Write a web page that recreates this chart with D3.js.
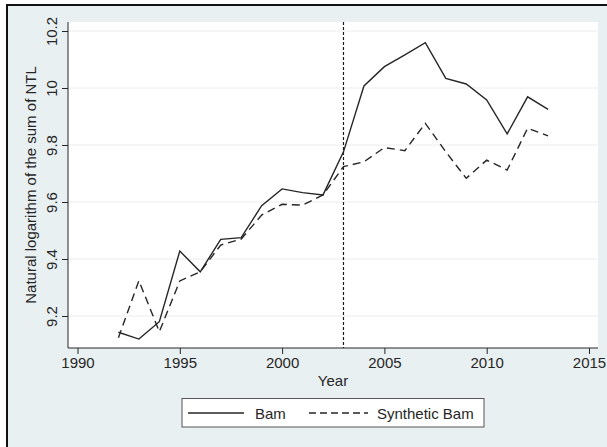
<!DOCTYPE html>
<html>
<head>
<meta charset="utf-8">
<script src="https://cdn.jsdelivr.net/npm/d3@7"></script>
<style>
  html, body { margin: 0; padding: 0; background: #ffffff; }
  svg { display: block; font-family: "Liberation Sans", Arial, Helvetica, sans-serif; }
</style>
</head>
<body>
<svg id="chart" width="607" height="447"></svg>
<script>
// Yearly series: observed Bam vs. its synthetic control
const years = [1992, 1993, 1994, 1995, 1996, 1997, 1998, 1999, 2000, 2001, 2002,
               2003, 2004, 2005, 2006, 2007, 2008, 2009, 2010, 2011, 2012, 2013];
const bam = [9.143, 9.119, 9.180, 9.428, 9.355, 9.469, 9.475, 9.587, 9.646, 9.633, 9.625,
             9.776, 10.007, 10.075, 10.116, 10.159, 10.034, 10.014, 9.958, 9.839, 9.969, 9.925];
const syntheticBam = [9.124, 9.324, 9.145, 9.323, 9.355, 9.449, 9.470, 9.554, 9.592, 9.589, 9.625,
                      9.724, 9.741, 9.791, 9.780, 9.876, 9.776, 9.683, 9.747, 9.712, 9.859, 9.832];
const seriesNames = ["Bam", "Synthetic Bam"];
const eventYear = 2003;

const xTicks = [1990, 1995, 2000, 2005, 2010, 2015];
const yTicks = [9.2, 9.4, 9.6, 9.8, 10, 10.2];
const yTickLabels = ["9.2", "9.4", "9.6", "9.8", "10", "10.2"];
const xTitle = "Year";
const yTitle = "Natural logarithm of the sum of NTL";

const svg = d3.select("#chart");
const ink = "#262626";

// Graph region (light bluish gray) framed on top and left
svg.append("rect").attr("x", 7).attr("y", 5).attr("width", 600).attr("height", 442)
  .attr("fill", "#e9f0f2");
svg.append("line").attr("x1", 6).attr("x2", 607).attr("y1", 5).attr("y2", 5)
  .attr("stroke", "#111").attr("stroke-width", 2);
svg.append("line").attr("x1", 7).attr("x2", 7).attr("y1", 4).attr("y2", 447)
  .attr("stroke", "#111").attr("stroke-width", 2);

// Plot region
const plot = { left: 68, right: 598, top: 22, bottom: 348 };
svg.append("rect").attr("x", plot.left).attr("y", plot.top)
  .attr("width", plot.right - plot.left).attr("height", plot.bottom - plot.top)
  .attr("fill", "#ffffff");

const x = d3.scaleLinear().domain([1990, 2015]).range([77.5, 589]);
const y = d3.scaleLinear().domain([9.2, 10.2]).range([316, 31]);

// Horizontal grid lines
svg.append("g").selectAll("line").data(yTicks).join("line")
  .attr("x1", plot.left).attr("x2", plot.right)
  .attr("y1", d => y(d)).attr("y2", d => y(d))
  .attr("stroke", "#ececec").attr("stroke-width", 1);

// X axis
const xAxis = svg.append("g")
  .attr("transform", `translate(0,${plot.bottom})`)
  .call(d3.axisBottom(x).tickValues(xTicks).tickFormat(d3.format("d")).tickSize(6).tickSizeOuter(0));
xAxis.select(".domain").remove();
xAxis.selectAll(".tick line").attr("stroke", ink);
xAxis.selectAll(".tick text").attr("fill", ink).attr("font-size", 15).attr("y", 9);

// Y axis with rotated labels
const yAxis = svg.append("g")
  .attr("transform", `translate(${plot.left},0)`)
  .call(d3.axisLeft(y).tickValues(yTicks).tickFormat((d, i) => yTickLabels[i]).tickSize(6).tickSizeOuter(0));
yAxis.select(".domain").remove();
yAxis.selectAll(".tick line").attr("stroke", ink);
yAxis.selectAll(".tick text")
  .attr("fill", ink).attr("font-size", 15)
  .attr("x", null).attr("dy", null)
  .attr("text-anchor", "middle")
  .attr("transform", "translate(-11,0) rotate(-90)");

// Axis lines
svg.append("line").attr("x1", plot.left).attr("x2", plot.right)
  .attr("y1", plot.bottom).attr("y2", plot.bottom).attr("stroke", ink).attr("stroke-width", 1);
svg.append("line").attr("x1", plot.left).attr("x2", plot.left)
  .attr("y1", plot.top).attr("y2", plot.bottom).attr("stroke", ink).attr("stroke-width", 1);

// Axis titles
svg.append("text").attr("x", (plot.left + plot.right) / 2).attr("y", 386)
  .attr("text-anchor", "middle").attr("font-size", 15).attr("fill", ink).text(xTitle);
svg.append("text")
  .attr("transform", `translate(36,${(plot.top + plot.bottom) / 2}) rotate(-90)`)
  .attr("text-anchor", "middle").attr("font-size", 15).attr("fill", ink).text(yTitle);

// Treatment year marker
svg.append("line")
  .attr("x1", x(eventYear)).attr("x2", x(eventYear))
  .attr("y1", plot.top).attr("y2", plot.bottom)
  .attr("stroke", "#1a1a1a").attr("stroke-width", 1.2).attr("stroke-dasharray", "3,2");

// Series lines
const line = d3.line().x(d => x(d[0])).y(d => y(d[1]));
const styles = [{ dash: null }, { dash: "8,5" }];
[bam, syntheticBam].forEach((vals, i) => {
  svg.append("path")
    .datum(years.map((yr, j) => [yr, vals[j]]))
    .attr("d", line)
    .attr("fill", "none")
    .attr("stroke", ink)
    .attr("stroke-width", 1.4)
    .attr("stroke-linejoin", "miter")
    .attr("stroke-dasharray", styles[i].dash);
});

// Legend
const legend = svg.append("g");
legend.append("rect").attr("x", 182).attr("y", 398.5).attr("width", 302).attr("height", 28.5)
  .attr("fill", "#ffffff").attr("stroke", "#555").attr("stroke-width", 1);
const legendItems = [
  { name: seriesNames[0], x1: 188, x2: 244, tx: 255, dash: null },
  { name: seriesNames[1], x1: 309, x2: 368, tx: 377, dash: "7,4" }
];
legendItems.forEach(it => {
  legend.append("line").attr("x1", it.x1).attr("x2", it.x2).attr("y1", 413).attr("y2", 413)
    .attr("stroke", ink).attr("stroke-width", 1.4).attr("stroke-dasharray", it.dash);
  legend.append("text").attr("x", it.tx).attr("y", 418.5)
    .attr("font-size", 15).attr("fill", ink).text(it.name);
});
</script>
</body>
</html>
